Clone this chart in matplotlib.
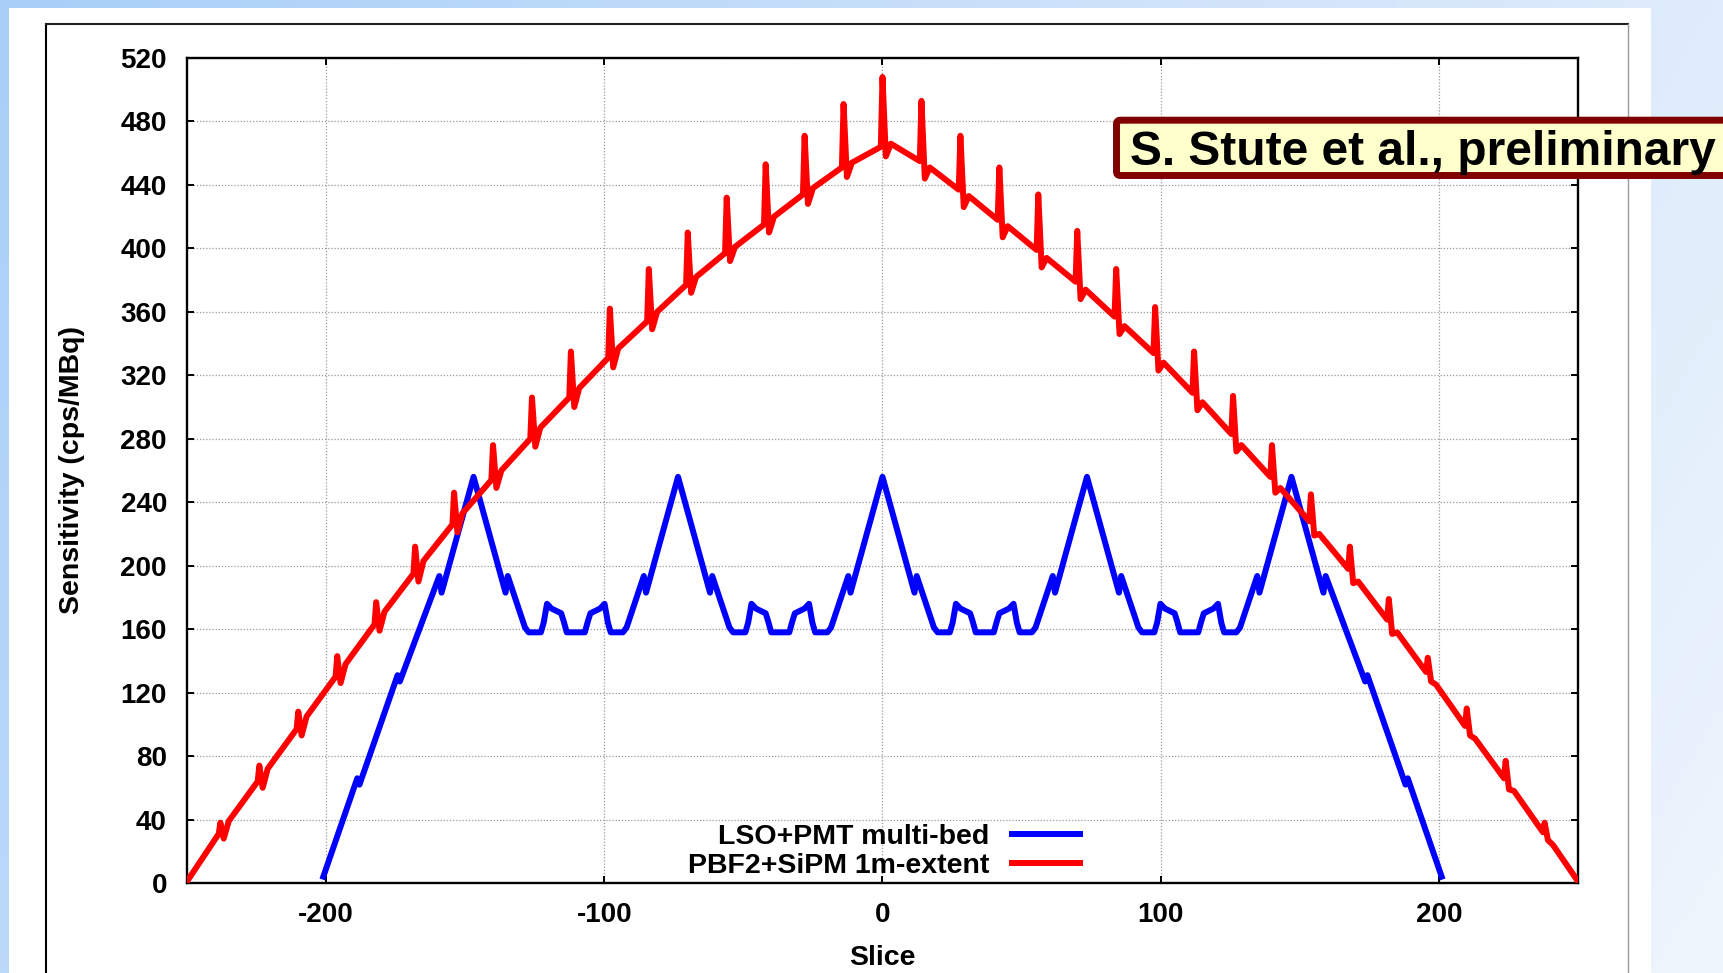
import numpy as np
import matplotlib.pyplot as plt
from matplotlib.lines import Line2D
from matplotlib.patches import FancyBboxPatch, Rectangle
from matplotlib.colors import LinearSegmentedColormap
from matplotlib.transforms import IdentityTransform

plt.rcParams["font.family"] = ["Liberation Sans", "DejaVu Sans"]
plt.rcParams["font.weight"] = "bold"
plt.rcParams["axes.labelweight"] = "bold"
plt.rcParams["axes.unicode_minus"] = False

W, H = 1724, 973

LSO_LABEL = "LSO+PMT multi-bed"
PBF_LABEL = "PBF2+SiPM 1m-extent"
NOTE = "S. Stute et al., preliminary"

# LSO+PMT multi-bed sensitivity profile
lso_x = [
    -201, -188.8, -188, -174.3, -173.5, -159.3, -158.5, -147,
    -135.5, -134.7, -128.5, -127.2, -122.8, -121.8, -120.6, -119, -115.5, -114.6, -113.5,
    -107, -105.9, -105, -101.5, -99.9, -98.7, -97.7, -93.3, -92, -85.8, -85, -73.5,
    -62, -61.2, -55, -53.7, -49.3, -48.3, -47.1, -45.5, -42, -41.1, -40,
    -33.5, -32.4, -31.5, -28, -26.4, -25.2, -24.2, -19.8, -18.5, -12.3, -11.5, 0,
    11.5, 12.3, 18.5, 19.8, 24.2, 25.2, 26.4, 28, 31.5, 32.4, 33.5,
    40, 41.1, 42, 45.5, 47.1, 48.3, 49.3, 53.7, 55, 61.2, 62, 73.5,
    85, 85.8, 92, 93.3, 97.7, 98.7, 99.9, 101.5, 105, 105.9, 107,
    113.5, 114.6, 115.5, 119, 120.6, 121.8, 122.8, 127.2, 128.5, 134.7, 135.5, 147,
    158.5, 159.3, 173.5, 174.3, 188, 188.8, 201,
]
lso_y = [
    4, 66, 62, 131, 127, 193.5, 183, 256,
    183, 193.5, 161, 158, 158, 164, 176, 173, 170, 165, 158,
    158, 165, 170, 173, 176, 164, 158, 158, 161, 193.5, 183, 256,
    183, 193.5, 161, 158, 158, 164, 176, 173, 170, 165, 158,
    158, 165, 170, 173, 176, 164, 158, 158, 161, 193.5, 183, 256,
    183, 193.5, 161, 158, 158, 164, 176, 173, 170, 165, 158,
    158, 165, 170, 173, 176, 164, 158, 158, 161, 193.5, 183, 256,
    183, 193.5, 161, 158, 158, 164, 176, 173, 170, 165, 158,
    158, 165, 170, 173, 176, 164, 158, 158, 161, 193.5, 183, 256,
    183, 193.5, 127, 131, 62, 66, 4,
]

# PBF2+SiPM: smooth profile with a spike every 14 slices
pbf_ends = (-250, 250)
pbf_end_y = (1, 1)
spike_x = [-238, -224, -210, -196, -182, -168, -154, -140, -126, -112, -98, -84,
           -70, -56, -42, -28, -14, 0, 14, 28, 42, 56, 70, 84, 98, 112, 126,
           140, 154, 168, 182, 196, 210, 224, 238]
spike_before = [31, 64, 97, 130, 163, 195, 226, 254, 280, 306, 331, 354, 377, 397,
                415, 434, 451, 464, 455, 437, 418, 399, 379, 357, 334, 309, 283,
                256, 228, 198, 166, 133, 99, 66, 32]
spike_peak = [38, 74, 108, 143, 177, 212, 246, 276, 306, 335, 362, 387, 410, 432,
              453, 471, 491, 508, 493, 471, 451, 434, 411, 387, 363, 335, 307,
              276, 245, 212, 179, 142, 110, 77, 38]
spike_dip = [28, 60, 93, 126, 159, 190, 221, 249, 275, 300, 325, 349, 372, 392,
             410, 428, 445, 458, 444, 426, 407, 388, 368, 346, 323, 298, 272,
             246, 219, 189, 157, 127, 93, 59, 27]
spike_after = [39, 72, 105, 138, 171, 203, 233, 260, 287, 312, 337, 360, 382, 401,
               420, 438, 454, 466, 451, 433, 414, 394, 374, 351, 328, 303, 276,
               249, 220, 190, 158, 125, 91, 58, 24]

x_ticks = [-200, -100, 0, 100, 200]
y_ticks = list(range(0, 521, 40))

pbf_x = [pbf_ends[0]]
pbf_y = [pbf_end_y[0]]
for s, b, p, d, a in zip(spike_x, spike_before, spike_peak, spike_dip, spike_after):
    pbf_x += [s - 0.6, s, s + 1.2, s + 3]
    pbf_y += [b, p, d, a]
pbf_x.append(pbf_ends[1])
pbf_y.append(pbf_end_y[1])


def fx(px):
    return px / W


def fy(py):
    return 1 - py / H


fig = plt.figure(figsize=(W / 100, H / 100), dpi=100)

# slide background
bg = fig.add_axes([0, 0, 1, 1])
bg.set_axis_off()
gx, gy = np.meshgrid(np.linspace(0, 1, 200), np.linspace(0, 1, 200))
cmap = LinearSegmentedColormap.from_list("bg", ["#a8cff8", "#cfe3fa", "#eef5fd"])
bg.imshow(0.75 * gx + 0.25 * gy, cmap=cmap, extent=[0, 1, 0, 1], aspect="auto")
bg.set_xlim(0, 1)
bg.set_ylim(0, 1)
bg.add_patch(Rectangle((fx(9), 0), fx(1651) - fx(9), fy(8), facecolor="white",
                       edgecolor="none", transform=bg.transAxes))
bg.add_line(Line2D([fx(46), fx(46)], [0, fy(24)], color="black", lw=1.5))
bg.add_line(Line2D([fx(46), fx(1628)], [fy(24), fy(24)], color="#222222", lw=1.5))
bg.add_line(Line2D([fx(1628), fx(1628)], [0, fy(24)], color="#999999", lw=1.0))

ax = fig.add_axes([fx(187), fy(883), fx(1578) - fx(187), fy(58) - fy(883)])
ax.plot(lso_x, lso_y, color="#0000ff", lw=4.3, label=LSO_LABEL, zorder=3)
ax.plot(pbf_x, pbf_y, color="#ff0000", lw=4.3, label=PBF_LABEL, zorder=4)

ax.set_xlim(-250, 250)
ax.set_ylim(0, 520)
ax.set_xticks(x_ticks)
ax.set_yticks(y_ticks)
ax.grid(True, color="#9a9a9a", linestyle=(0, (1, 1.5)), linewidth=0.9)
ax.set_axisbelow(True)
for sp in ax.spines.values():
    sp.set_linewidth(1.7)
ax.tick_params(direction="in", top=True, right=True, length=5, width=1.4,
               labelsize=20)
ax.tick_params(axis="x", pad=13.4)
ax.tick_params(axis="y", pad=14.4)

ax.set_xlabel("Slice", fontsize=20.5, fontweight="bold", va="baseline")
ax.xaxis.set_label_coords(0.5, -(965 - 883) / 825)
ax.set_ylabel("Sensitivity (cps/MBq)", fontsize=20.5, fontweight="bold",
              va="baseline")
ax.yaxis.set_label_coords((79 - 187) / 1391, 0.5)

# gnuplot style key: text right aligned, sample to the right
for label, color, base, liney in ((LSO_LABEL, "#0000ff", 844, 834),
                                  (PBF_LABEL, "#ff0000", 873, 863)):
    fig.text(fx(989), fy(base), label, ha="right", va="baseline", fontsize=20.5,
             zorder=6)
    fig.add_artist(Line2D([fx(1009.5), fx(1083)], [fy(liney), fy(liney)],
                          color=color, lw=4.3, solid_capstyle="butt", zorder=6))

# note box
box = FancyBboxPatch((1116.5, H - 175.5), 700, 55.3,
                     boxstyle="round,pad=0,rounding_size=4",
                     facecolor="#ffffcc", edgecolor="#800000", lw=5.0,
                     transform=IdentityTransform(), zorder=10)
fig.add_artist(box)
fig.text(fx(1130), fy(165), NOTE, fontsize=34.5, ha="left", va="baseline",
         zorder=11)

fig.savefig("out.png", dpi=100)
